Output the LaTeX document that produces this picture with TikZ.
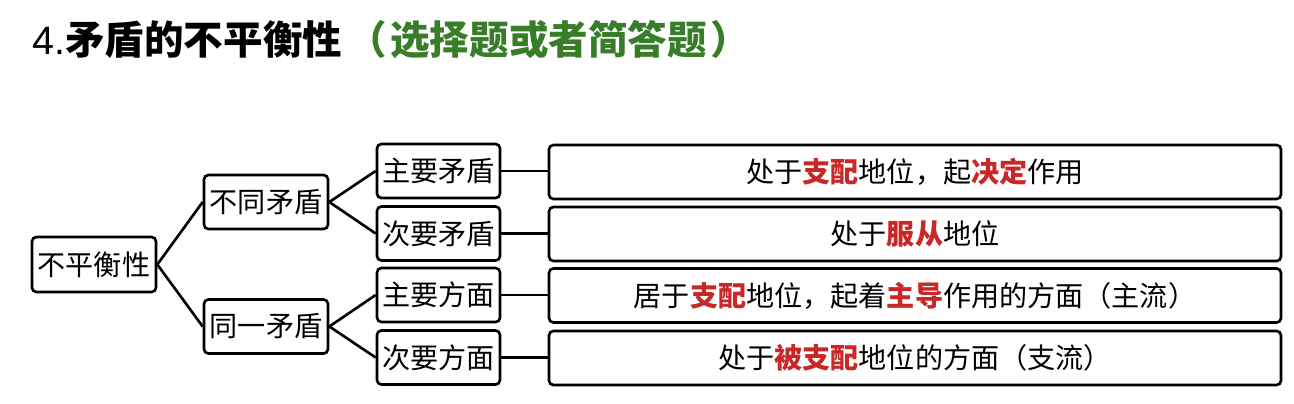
\documentclass[tikz,border=0pt]{standalone}
\usepackage{fontspec}
\setmainfont{Liberation Sans}
\newfontfamily\cjk{Noto Sans CJK SC}
\usepackage{xcolor}
\definecolor{mao_red}{RGB}{200, 40, 40}
\definecolor{mao_green}{RGB}{56, 125, 40}
\usetikzlibrary{positioning}
\newcommand{\hl}[1]{\textcolor{mao_red}{\textbf{#1}}}

\begin{document}
\begin{tikzpicture}[
        every node/.style={font=\cjk\fontsize{16}{19}\selectfont},
        box/.style={draw=black, line width=1.5pt, rounded corners=2.5pt,
                    minimum width=2.46cm, minimum height=1.08cm, inner sep=0pt, align=center},
        wide/.style={box, minimum width=14.64cm},
        link/.style={line width=1.5pt},
      ]
        \useasboundingbox (0,0) rectangle (25.88,-8.08);

        % title
        \node[anchor=west, inner sep=0pt, font=\fontsize{22.5}{26}\selectfont] (title) at (0.64,-0.8)
          {4.{\cjk\bfseries 矛盾的不平衡性\textcolor{mao_green}{\hspace{3pt}（\hspace{2pt}选择题或者简答题\hspace{2pt}）}}};

        % tree
        \node[box, minimum width=2.48cm, minimum height=1.1cm] (root) at (1.88,-5.29) {不平衡性};
        \node[box, minimum width=2.48cm] (diff) at (5.32,-4.04) {不同矛盾};
        \node[box, minimum width=2.48cm] (same) at (5.32,-6.53) {同一矛盾};

        \node[box] (mainc) at (8.77,-3.42) {主要矛盾};
        \node[box] (minc)  at (8.77,-4.67) {次要矛盾};
        \node[box] (mains) at (8.77,-5.90) {主要方面};
        \node[box] (mins)  at (8.77,-7.15) {次要方面};

        \node[wide] (d1) at (18.30,-3.44) {处于\hl{支配}地位，起\hl{决定}作用};
        \node[wide] (d2) at (18.30,-4.68) {处于\hl{服从}地位};
        \node[wide] (d3) at (18.30,-5.91) {居于\hl{支配}地位，起着\hl{主导}作用的方面（主流）};
        \node[wide] (d4) at (18.30,-7.16) {处于\hl{被支配}地位的方面（支流）};

        \draw[link] (root.east) -- (diff.west);
        \draw[link] (root.east) -- (same.west);
        \draw[link] (diff.east) -- (mainc.west);
        \draw[link] (diff.east) -- (minc.west);
        \draw[link] (same.east) -- (mains.west);
        \draw[link] (same.east) -- (mins.west);

        \draw[link] (mainc) -- (mainc -| d1.west);
        \draw[link] (minc)  -- (minc -| d2.west);
        \draw[link] (mains) -- (mains -| d3.west);
        \draw[link] (mins)  -- (mins -| d4.west);
      \end{tikzpicture}
\end{document}
